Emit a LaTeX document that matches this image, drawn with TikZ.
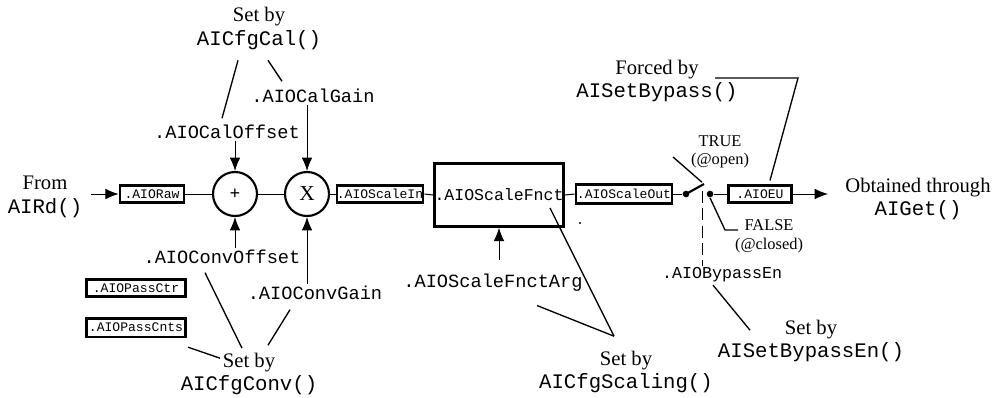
\documentclass[tikz,border=0pt]{standalone}
\usepackage{fontspec}
\setmainfont{Liberation Serif}
\setmonofont{Liberation Mono}
\usetikzlibrary{arrows.meta}

\tikzset{every picture/.style={line width=0.75pt}}
\tikzset{
  reg/.style={draw, line width=2pt, inner sep=0pt, minimum height=13pt, font=\fontsize{9.8}{11}\selectfont\ttfamily},
  sumnode/.style={draw, circle, line width=1.6pt, minimum size=33pt, inner sep=0pt},
  fld/.style={inner sep=1pt, font=\fontsize{14}{16}\selectfont\ttfamily},
  src/.style={inner sep=1pt, align=center, font=\fontsize{15.5}{17.5}\selectfont},
  state/.style={inner sep=1pt, align=center, font=\fontsize{12.3}{14}\selectfont},
  swdot/.style={circle, fill, inner sep=0pt, minimum size=5pt},
  arr/.style={-{Latex[length=10pt,width=8pt]}},
  lead/.style={line width=1pt},
}

\begin{document}
\begin{tikzpicture}[x=0.75pt,y=0.75pt,yscale=-1,xscale=1]
		\useasboundingbox (0,0) rectangle (995,397);
		
		%Shape: Rectangle
		\node [reg, minimum width=48pt] (raw) at (152,194) {.AIORaw};
		%Shape: Circle
		\node [sumnode, font=\bfseries\fontsize{14}{14}\selectfont] (plus) at (235,194) {+};
		%Shape: Circle
		\node [sumnode, font=\fontsize{16}{16}\selectfont] (mult) at (307,194) {X};
		%Shape: Rectangle
		\node [reg, minimum width=61pt, minimum height=12.3pt] (sin) at (380,194) {.AIOScaleIn};
		%Shape: Rectangle
		\node [reg, minimum width=97pt, minimum height=47pt, font=\fontsize{12.4}{14}\selectfont\ttfamily] (fnct) at (499,195) {.AIOScaleFnct};
		%Shape: Rectangle
		\node [reg, minimum width=72pt, minimum height=14pt] (sout) at (624,194) {.AIOScaleOut};
		%Shape: Circle
		\node [swdot] (swa) at (686,194) {};
		%Shape: Circle
		\node [swdot] (swb) at (710,194) {};
		\coordinate (lever) at (704,184);
		\coordinate (levmid) at (702,191);
		%Shape: Rectangle
		\node [reg, minimum width=47.5pt, minimum height=12.3pt] (eu) at (760,194) {.AIOEU};
		\coordinate (outtip) at (828,194);
		%Shape: Rectangle
		\node [reg, minimum width=74.5pt] (passctr) at (136,288) {.AIOPassCtr};
		%Shape: Rectangle
		\node [reg, minimum width=74.5pt, minimum height=14pt] (passcnts) at (136,327.5) {.AIOPassCnts};
		%Shape: Circle
		\node [circle, fill, inner sep=0pt, minimum size=1.8pt] (speck) at (580,223) {};
		\coordinate (intail) at (91,194);
		
		% Text Node
		\node [src] (from) at (45,197) {From\\{\ttfamily AIRd()}};
		% Text Node
		\node [src] (out) at (918,199) {Obtained through\\{\ttfamily AIGet()}};
		% Text Node
		\node [src] (setcal) at (259,28.5) {Set by\\{\ttfamily AICfgCal()}};
		% Text Node
		\node [src] (setconv) at (249,374) {Set by\\{\ttfamily AICfgConv()}};
		% Text Node
		\node [src] (setscal) at (626,372) {Set by\\{\ttfamily AICfgScaling()}};
		% Text Node
		\node [src] (setbyp) at (811,341) {Set by\\{\ttfamily AISetBypassEn()}};
		% Text Node
		\node [src] (forced) at (657,81) {Forced by\\{\ttfamily AISetBypass()}};
		% Text Node
		\node [state] (trueL) at (720,152) {TRUE\\(@open)};
		% Text Node
		\node [state] (falseL) at (769,236) {FALSE\\(@closed)};
		% Text Node
		\node [fld] (caloff) at (227,132) {.AIOCalOffset};
		% Text Node
		\node [fld] (calgain) at (313,96) {.AIOCalGain};
		% Text Node
		\node [fld] (convoff) at (222,257) {.AIOConvOffset};
		% Text Node
		\node [fld] (convgain) at (315,293) {.AIOConvGain};
		% Text Node
		\node [fld] (fnctarg) at (493,283) {.AIOScaleFnctArg};
		% Text Node
		\node [fld, font=\fontsize{12.5}{14}\selectfont\ttfamily] (bypen) at (722,275) {.AIOBypassEn};
		
		%Straight Lines
		\draw [arr] (intail) -- (raw.west) ;
		\draw (raw.east) -- (plus.west) ;
		\draw (plus.east) -- (mult.west) ;
		\draw (mult.east) -- (sin.west) ;
		\draw (sin.east) -- (fnct.west) ;
		\draw (fnct.east) -- (sout.west) ;
		\draw (sout.east) -- (swa) ;
		\draw [line width=1.6pt] (swa.center) -- (lever) ;
		\draw (swb) -- (eu.west) ;
		\draw [arr] (eu.east) -- (outtip) ;
		\draw [dash pattern={on 9pt off 4pt}] (levmid) -- (levmid |- bypen.north) ;
		
		%Arrows into the operators
		\draw [arr] (plus.north |- caloff.south) -- (plus.north) ;
		\draw [arr] (mult.north |- calgain.south) -- (mult.north) ;
		\draw [arr] (plus.south |- convoff.north) -- (plus.south) ;
		\draw [arr] (mult.south |- convgain.north) -- (mult.south) ;
		\draw [arr] ([yshift=-9pt]fnct.south |- fnctarg.north) -- (fnct.south) ;
		
		%Leader lines
		\draw [lead] ([shift={(-21,9)}]setcal.south) -- ([shift={(-5,-5)}]caloff.north) ;
		\draw [lead] ([shift={(9,9)}]setcal.south) -- ([shift={(-31,-6)}]calgain.north) ;
		\draw [lead] ([shift={(-17,7)}]convoff.south) -- ([shift={(-7,-3)}]setconv.north) ;
		\draw [lead] ([shift={(-25,8)}]convgain.south) -- ([shift={(19,-6)}]setconv.north) ;
		\draw [lead] ([shift={(1,9)}]passcnts.south east) -- ([shift={(-29,7)}]setconv.north) ;
		\draw [lead] ([shift={(44,12)}]fnctarg.south) -- ([shift={(-12,-13)}]setscal.north) ;
		\draw [lead] ([shift={(51,13)}]fnct.center) -- ([shift={(-12,-13)}]setscal.north) ;
		\draw [lead] ([shift={(-9,1)}]bypen.south) -- ([shift={(-61,12)}]setbyp.north) ;
		\draw [lead] ([shift={(10,-4)}]eu.north) -- ([shift={(141,-3)}]forced.center) -- ([shift={(58,-3)}]forced.center) ;
		\draw [lead, shorten >=2pt] ([shift={(-47,5)}]trueL.center) -- (lever) ;
		\draw [lead] (swb.south) -- ([shift={(-44,-6)}]falseL.center) -- ([shift={(-31,-6)}]falseL.center) ;
\end{tikzpicture}
\end{document}
